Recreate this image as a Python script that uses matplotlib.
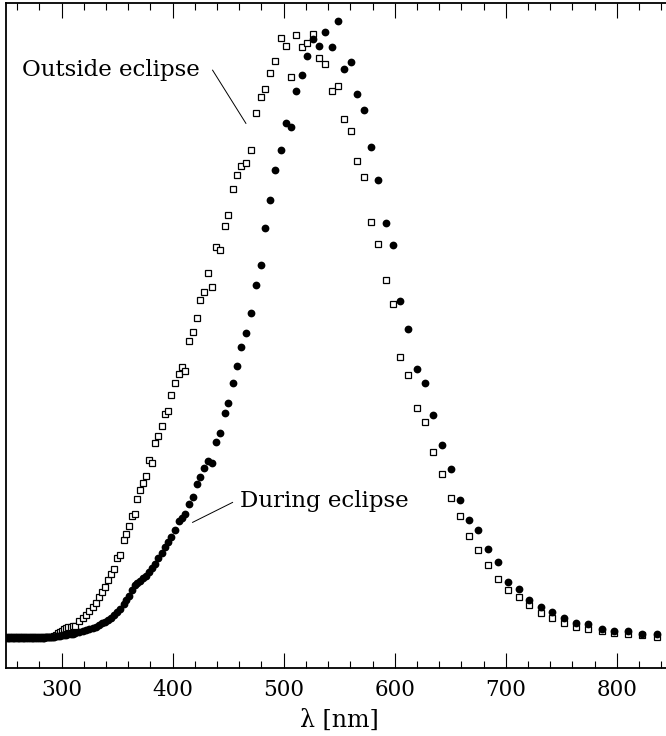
"""Spectral energy distribution outside and during eclipse."""

import matplotlib

matplotlib.use("Agg")
import matplotlib.pyplot as plt
from matplotlib.ticker import MultipleLocator, NullLocator

# shared wavelength grid (nm)
WAVELENGTH = [
    250.0, 251.5, 253.0, 254.5, 256.0, 257.5, 259.0, 260.5, 262.0, 263.5,
    265.0, 266.6, 268.2, 269.8, 271.4, 273.0, 274.6, 276.2, 277.8, 279.5,
    281.2, 282.9, 284.6, 286.3, 288.0, 289.8, 291.6, 293.4, 295.2, 297.0,
    298.8, 300.6, 302.4, 304.3, 306.2, 308.1, 310.0,
    312.0, 315.9, 318.9, 321.9, 324.9, 327.9, 330.9, 333.6, 336.0, 339.0,
    341.7, 344.4, 347.1, 349.8, 352.5, 355.8, 358.2, 360.9, 363.8, 365.8,
    368.3, 371.0, 373.5, 376.1, 378.9, 381.5, 384.5, 387.2, 390.2, 392.9,
    396.2, 398.9, 402.2, 405.5, 408.2, 411.3, 414.8, 418.0, 421.6, 425.0,
    428.4, 432.0, 435.4, 439.0, 442.6, 447.1, 450.2, 454.3, 458.2, 461.5,
    466.2, 470.2, 474.7, 479.2, 483.1, 487.6, 492.1, 497.5, 501.8, 506.3,
    511.0, 516.2, 521.2, 526.6, 532.0, 537.2, 543.2, 548.6, 554.3, 560.3,
    566.2, 572.3, 578.6, 585.2, 591.8, 598.7, 605.0, 612.2, 619.7, 627.2,
    634.7, 642.5, 650.4, 658.5, 666.6, 675.2, 684.2, 693.2, 702.3, 711.9,
    721.2, 731.5, 741.9, 752.7, 763.3, 774.3, 786.4, 797.7, 810.3, 822.9,
    835.9,
]

# relative flux, out of eclipse (open squares)
FLUX_OUTSIDE = [
    4.6, 4.6, 4.6, 4.6, 4.6, 4.6, 4.6, 4.6, 4.6, 4.6,
    4.6, 4.6, 4.6, 4.6, 4.6, 4.6, 4.6, 4.6, 4.6, 4.6,
    4.6, 4.6, 4.6, 4.6, 4.6, 4.6, 4.7, 4.8, 5.0, 5.2,
    5.4, 5.6, 5.8, 5.95, 6.1, 6.2, 6.25,
    6.3, 7.0, 7.5, 8.0, 8.6, 9.2, 9.8, 10.7, 11.5, 12.2,
    13.3, 14.1, 14.9, 16.5, 17.0, 19.2, 20.2, 21.4, 22.8, 23.1,
    25.4, 26.7, 27.8, 28.9, 31.3, 30.9, 33.8, 34.9, 36.4, 38.2,
    38.7, 41.1, 42.8, 44.2, 45.2, 44.7, 49.1, 50.6, 52.7, 55.4,
    56.5, 59.4, 57.3, 63.3, 62.8, 66.4, 68.1, 72.0, 74.1, 75.5,
    75.9, 77.9, 83.4, 85.8, 87.0, 89.4, 91.3, 94.8, 93.6, 88.8,
    95.2, 93.4, 94.0, 95.4, 91.8, 90.9, 86.8, 87.5, 82.6, 80.7,
    76.3, 73.9, 67.1, 63.8, 58.3, 54.7, 46.8, 44.0, 39.1, 37.0,
    32.5, 29.2, 25.5, 22.9, 19.8, 17.7, 15.5, 13.4, 11.7, 10.7,
    9.5, 8.3, 7.5, 6.8, 6.2, 5.9, 5.5, 5.2, 5.1, 4.9,
    4.7,
]

# relative flux, during eclipse (filled circles)
FLUX_DURING = [
    4.55, 4.55, 4.55, 4.55, 4.55, 4.55, 4.55, 4.55, 4.55, 4.55,
    4.55, 4.55, 4.55, 4.55, 4.55, 4.55, 4.55, 4.55, 4.55, 4.55,
    4.55, 4.55, 4.55, 4.6, 4.6, 4.65, 4.7, 4.7, 4.75, 4.8,
    4.85, 4.9, 4.95, 5.0, 5.05, 5.1, 5.15,
    5.2, 5.35, 5.5, 5.65, 5.8, 6.0, 6.2, 6.45, 6.7, 6.95,
    7.2, 7.5, 7.9, 8.4, 8.9, 9.6, 10.2, 10.9, 11.8, 12.5,
    12.8, 13.1, 13.5, 13.9, 14.4, 15.0, 15.7, 16.5, 17.3, 18.2,
    19.0, 19.7, 20.7, 22.1, 22.6, 23.1, 24.6, 25.7, 27.6, 28.7,
    30.1, 31.2, 30.9, 34.0, 35.3, 38.3, 39.8, 42.9, 45.4, 48.2,
    50.4, 53.4, 57.6, 60.6, 66.1, 70.4, 74.9, 77.9, 81.9, 81.4,
    86.7, 89.2, 92.1, 94.6, 93.5, 95.6, 93.4, 97.3, 90.1, 91.2,
    86.3, 83.9, 78.4, 73.4, 66.9, 63.6, 55.2, 51.0, 44.9, 42.9,
    38.1, 33.5, 29.9, 25.3, 22.3, 20.8, 17.9, 15.9, 13.0, 11.9,
    10.3, 9.1, 8.4, 7.5, 6.7, 6.6, 5.9, 5.6, 5.5, 5.1,
    5.1,
]

XLIM = (250, 850)
YLIM = (0, 100)
FONT = "DejaVu Serif"


def style_axes(ax):
    ax.set_xlim(*XLIM)
    ax.set_ylim(*YLIM)
    ax.xaxis.set_major_locator(MultipleLocator(100))
    ax.xaxis.set_minor_locator(MultipleLocator(20))
    ax.yaxis.set_major_locator(NullLocator())
    ax.yaxis.set_minor_locator(NullLocator())
    ax.tick_params(axis="x", which="both", direction="in", top=True, bottom=True,
                   color="black", width=0.8)
    ax.tick_params(axis="x", which="major", length=10.8, pad=8, labelsize=15.5)
    ax.tick_params(axis="x", which="minor", length=5.2)
    for lbl in ax.get_xticklabels():
        lbl.set_family(FONT)
    for sp in ax.spines.values():
        sp.set_linewidth(1.3)


def main():
    assert len(WAVELENGTH) == len(FLUX_OUTSIDE) == len(FLUX_DURING)

    fig = plt.figure(figsize=(6.66, 7.36), dpi=100)
    ax = fig.add_axes([6 / 666, 68 / 736, 666.4 / 666, 665 / 736])

    ax.plot(WAVELENGTH, FLUX_OUTSIDE, ls="none", marker="s", ms=4.4,
            mfc="white", mec="black", mew=0.9, zorder=2)
    ax.plot(WAVELENGTH, FLUX_DURING, ls="none", marker="o", ms=5.6,
            mfc="black", mec="black", mew=0, zorder=3)

    ax.text(264.2, 89.0, "Outside eclipse", family=FONT, fontsize=16.5,
            ha="left", va="baseline")
    ax.plot([436.0, 466.0], [89.9, 81.9], color="black", lw=0.7)
    ax.text(460.6, 24.2, "During eclipse", family=FONT, fontsize=16.5,
            ha="left", va="baseline")
    ax.plot([418.0, 454.0], [21.9, 24.9], color="black", lw=0.7)

    style_axes(ax)
    ax.set_xlabel("λ [nm]", family=FONT, fontsize=17)
    ax.xaxis.set_label_coords(0.5, -0.078)
    ax.xaxis.label.set_verticalalignment("center")

    fig.savefig("out.png", dpi=100)
    plt.close(fig)


if __name__ == "__main__":
    main()
